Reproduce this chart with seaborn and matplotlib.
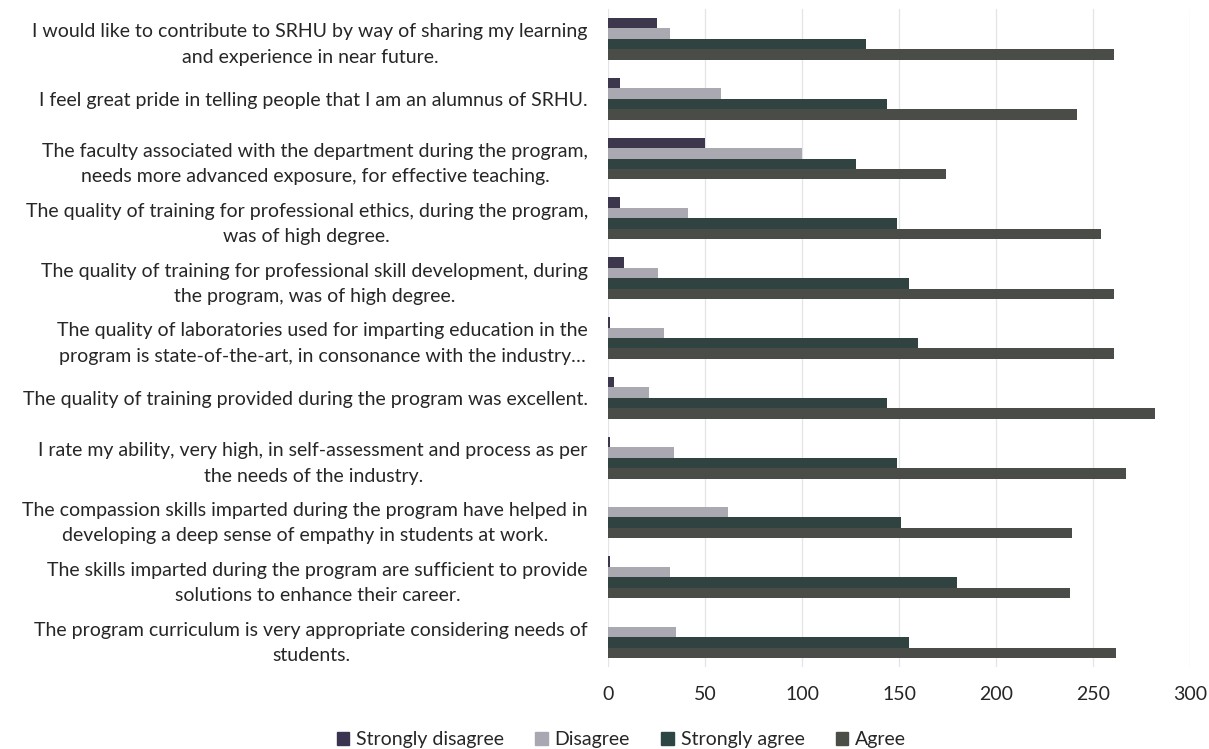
import matplotlib
matplotlib.use("Agg")
import matplotlib.pyplot as plt
import seaborn as sns
import pandas as pd

# Survey statements, top to bottom
statements = [
    "I would like to contribute to SRHU by way of sharing my learning\nand experience in near future.",
    "I feel great pride in telling people that I am an alumnus of SRHU.",
    "The faculty associated with the department during the program,\nneeds more advanced exposure, for effective teaching.",
    "The quality of training for professional ethics, during the program,\nwas of high degree.",
    "The quality of training for professional skill development, during\nthe program, was of high degree.",
    "The quality of laboratories used for imparting education in the\nprogram is state-of-the-art, in consonance with the industry…",
    "The quality of training provided during the program was excellent.",
    "I rate my ability, very high, in self-assessment and process as per\nthe needs of the industry.",
    "The compassion skills imparted during the program have helped in\ndeveloping a deep sense of empathy in students at work.",
    "The skills imparted during the program are sufficient to provide\nsolutions to enhance their career.",
    "The program curriculum is very appropriate considering needs of\nstudents.",
]

responses = ["Strongly disagree", "Disagree", "Strongly agree", "Agree"]

strongly_disagree = [25, 6, 50, 6, 8, 1, 3, 1, 0, 1, 0]
disagree = [32, 58, 100, 41, 26, 29, 21, 34, 62, 32, 35]
strongly_agree = [133, 144, 128, 149, 155, 160, 144, 149, 151, 180, 155]
agree = [261, 242, 174, 254, 261, 261, 282, 267, 239, 238, 262]

x_ticks = [0, 50, 100, 150, 200, 250, 300]

colors = ["#3b3450", "#a9a7b1", "#2d4643", "#4a4e46"]

series = [strongly_disagree, disagree, strongly_agree, agree]
rows = []
for resp, vals in zip(responses, series):
    for stmt, v in zip(statements, vals):
        rows.append({"statement": stmt, "response": resp, "count": v})
df = pd.DataFrame(rows)

sns.set_theme(style="white")
plt.rcParams["font.family"] = ["Lato", "DejaVu Sans"]
text_color = "#262626"

fig = plt.figure(figsize=(12.09, 7.49), dpi=100)
ax = fig.add_axes([0.5029, 0.1095, 0.4814, 0.8785])

sns.barplot(
    data=df, x="count", y="statement", hue="response",
    order=statements, hue_order=responses, palette=colors,
    orient="h", width=0.7, linewidth=0, errorbar=None, ax=ax,
)

ax.set_xlim(0, 300)
ax.set_xticks(x_ticks)
ax.set_xticklabels([str(t) for t in x_ticks])
ax.xaxis.grid(True, color="#e3e3e8", linewidth=0.9)
ax.yaxis.grid(False)
ax.set_axisbelow(True)
for s in ax.spines.values():
    s.set_visible(False)

ax.set_xlabel("")
ax.set_ylabel("")
ax.tick_params(axis="x", length=0, pad=14, labelsize=14, labelcolor=text_color)
ax.tick_params(axis="y", length=0, pad=14.5, labelsize=14, labelcolor=text_color)
for t in ax.get_yticklabels():
    t.set_multialignment("center")
    t.set_linespacing(1.6)

ax.legend_.remove()
handles = [plt.Rectangle((0, 0), 1, 1, color=c) for c in colors]
fig.legend(
    handles, responses, loc="lower center", ncol=4,
    bbox_to_anchor=(0.514, -0.022), frameon=False,
    fontsize=14, handlelength=0.65, handleheight=0.65,
    handletextpad=0.35, columnspacing=1.6, labelcolor=text_color,
)

fig.savefig("out.png", dpi=100, facecolor="white")
